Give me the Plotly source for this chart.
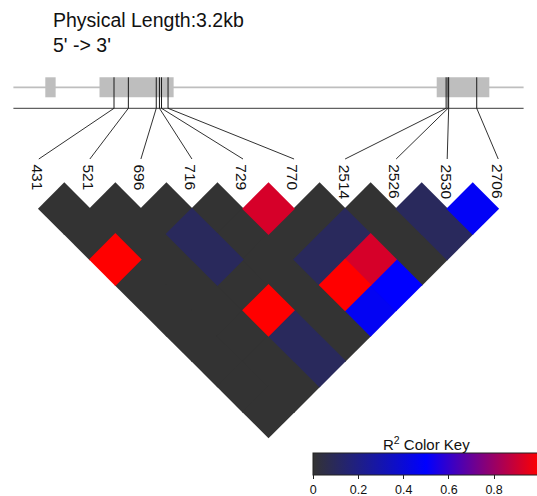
import plotly.graph_objects as go

# ---------------- data ----------------
snp_pos = [431, 521, 696, 716, 729, 770, 2514, 2526, 2530, 2706]
snp_labels = ["431", "521", "696", "716", "729", "770", "2514", "2526", "2530", "2706"]

# pairwise R^2 (row j lists pairs (i, j) for i < j)
r2_rows = [
    [],
    [0.00],
    [0.00, 0.00],
    [1.00, 0.00, 0.00],
    [0.00, 0.00, 0.10, 0.00],
    [0.00, 0.00, 0.10, 0.00, 0.92],
    [0.00, 0.00, 0.00, 0.00, 0.00, 0.00],
    [0.00, 0.00, 1.00, 0.00, 0.10, 0.10, 0.00],
    [0.00, 0.00, 0.10, 0.00, 1.00, 0.92, 0.00, 0.10],
    [0.00, 0.00, 0.10, 0.00, 0.47, 0.50, 0.00, 0.10, 0.48],
]

gene_start, gene_end = -200, 3000          # physical window (3.2 kb)
exons = [(0, 65), (340, 805), (2455, 2785)]
title_text = "Physical Length:3.2kb"
direction_text = "5' -> 3'"
key_title = "R<sup>2</sup> Color Key"
key_ticks = [0, 0.2, 0.4, 0.6, 0.8, 1]
key_ticktext = ["0", "0.2", "0.4", "0.6", "0.8", "1"]

# ---------------- layout constants ----------------
W, H = 537, 496
FONT = "Liberation Sans, Arial, Helvetica, sans-serif"
colorscale = [[0.0, "#333333"], [0.5, "#0000FF"], [1.0, "#FF0000"]]

# track axis (bp): track drawn from px 13.4 to 523.6
trk_px0, trk_px1 = 13.4, 523.6
bp_per_px = (gene_end - gene_start) / (trk_px1 - trk_px0)
x_bp0 = gene_start - trk_px0 * bp_per_px
x_bp1 = x_bp0 + W * bp_per_px

# heatmap axis (SNP index): index 0 at px 38.8, step 51.05 px
hm_px0, hm_step = 38.8, 51.05
x_i0 = -hm_px0 / hm_step
x_i1 = (W - hm_px0) / hm_step

# heatmap depth axis: depth 0 at px 183.3, step 25.4 px
d_px0, d_step = 183.3, 25.4
y_d0 = -d_px0 / d_step
y_d1 = (H - d_px0) / d_step

def bp_paper(b):
    return (b - x_bp0) / (x_bp1 - x_bp0)

def idx_paper(i):
    return (i - x_i0) / (x_i1 - x_i0)

# ---------------- cells ----------------
cells = []
for j, row in enumerate(r2_rows):
    for i, v in enumerate(row):
        cells.append(((i + j) / 2, j - i, v, f"{snp_labels[i]} - {snp_labels[j]}: {v:.2f}"))
# draw low values first so coloured cells stay on top of the slight overlaps
cells.sort(key=lambda c: c[2])
cx = [c[0] for c in cells]
cy = [c[1] for c in cells]
cval = [c[2] for c in cells]
ctext = [c[3] for c in cells]

fig = go.Figure()
fig.add_trace(go.Scatter(
    x=cx, y=cy, xaxis="x2", yaxis="y2", mode="markers",
    text=ctext, hoverinfo="text",
    marker=dict(
        symbol="diamond", size=40.6, color=cval, cmin=0, cmax=1,
        colorscale=colorscale, line=dict(width=0), opacity=1,
        showscale=True,
        colorbar=dict(
            orientation="h", x=313.3 / W, xanchor="left",
            y=1 - 453.3 / H, yanchor="top",
            len=226, lenmode="pixels", thickness=21.7, thicknessmode="pixels",
            xpad=0, ypad=0, outlinecolor="#222", outlinewidth=1,
            ticks="outside", ticklen=4, tickcolor="#222", tickwidth=1,
            tickvals=key_ticks, ticktext=key_ticktext,
            tickfont=dict(family=FONT, size=12.5, color="#111"),
        ),
    ),
    showlegend=False,
))

shapes = []
# gene track line and exons
shapes.append(dict(type="line", xref="x", yref="y", x0=gene_start, x1=gene_end,
                   y0=87.3, y1=87.3, line=dict(color="#BEBEBE", width=1.7)))
for a, b in exons:
    shapes.append(dict(type="rect", xref="x", yref="y", x0=a, x1=b, y0=77.3, y1=97.3,
                       fillcolor="#BEBEBE", line=dict(width=0)))
# lower map line
shapes.append(dict(type="line", xref="x", yref="y", x0=gene_start, x1=gene_end,
                   y0=108.3, y1=108.3, line=dict(color="#3a3a3a", width=1)))
# SNP ticks and connectors
for k, p in enumerate(snp_pos):
    shapes.append(dict(type="line", xref="x", yref="y", x0=p, x1=p, y0=77.3, y1=108.3,
                       line=dict(color="#1a1a1a", width=1)))
    shapes.append(dict(type="line", xref="paper", yref="y",
                       x0=bp_paper(p), x1=idx_paper(k), y0=108.3, y1=159,
                       line=dict(color="#1a1a1a", width=0.9)))

annotations = []
for k, lab in enumerate(snp_labels):
    annotations.append(dict(x=k, y=162.3, xref="x2", yref="y", text=lab, textangle=90,
                            showarrow=False, xanchor="center", yanchor="top", xshift=-1,
                            font=dict(family=FONT, size=15.5, color="#111")))
annotations.append(dict(x=51.0 / W, y=19.5, xref="paper", yref="y", text=title_text,
                        showarrow=False, xanchor="left", yanchor="middle",
                        font=dict(family=FONT, size=19.5, color="#111")))
annotations.append(dict(x=51.0 / W, y=45, xref="paper", yref="y", text=direction_text,
                        showarrow=False, xanchor="left", yanchor="middle",
                        font=dict(family=FONT, size=19.5, color="#111")))
annotations.append(dict(x=(313.3 + 113) / W, y=443.5, xref="paper", yref="y",
                        text=key_title, showarrow=False, xanchor="center", yanchor="middle",
                        font=dict(family=FONT, size=15, color="#111")))

fig.update_layout(
    width=W, height=H, autosize=False,
    margin=dict(l=0, r=0, t=0, b=0, pad=0, autoexpand=False),
    paper_bgcolor="white", plot_bgcolor="white",
    xaxis=dict(range=[x_bp0, x_bp1], domain=[0, 1], visible=False, fixedrange=True),
    yaxis=dict(range=[H, 0], domain=[0, 1], visible=False, fixedrange=True),
    xaxis2=dict(range=[x_i0, x_i1], domain=[0, 1], overlaying="x", anchor="y2",
                visible=False, fixedrange=True),
    yaxis2=dict(range=[y_d1, y_d0], domain=[0, 1], overlaying="y", anchor="x2",
                visible=False, fixedrange=True),
    shapes=shapes, annotations=annotations,
    hovermode="closest",
)

fig.write_html(
    "out.html",
    config={"displayModeBar": False},
    post_script="document.body.style.margin='0px';document.body.style.overflow='hidden';",
)
